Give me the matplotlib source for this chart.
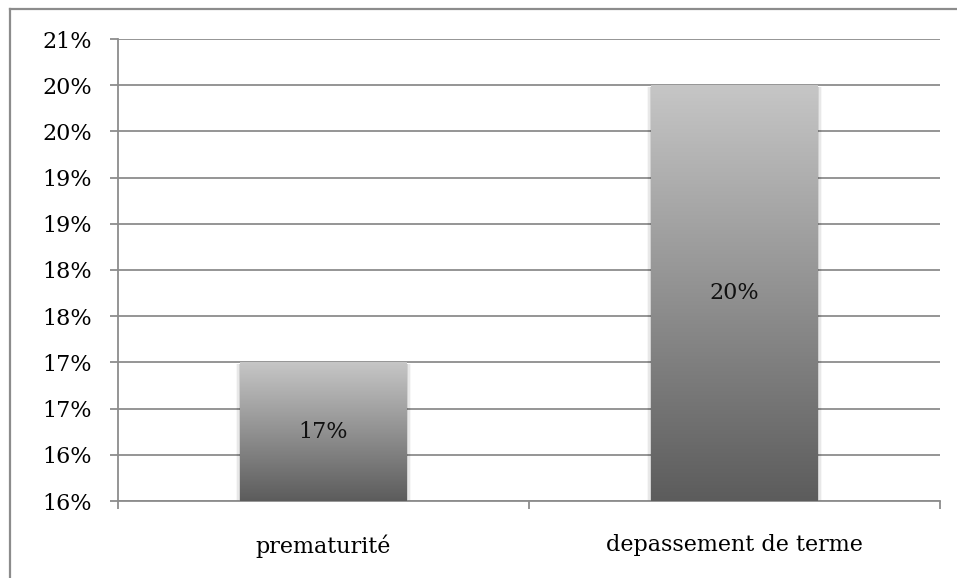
import numpy as np
import matplotlib
matplotlib.use("Agg")
import matplotlib.pyplot as plt
from matplotlib.lines import Line2D
from matplotlib.patches import Rectangle
from matplotlib.ticker import FixedLocator, FuncFormatter

# donnees
categories = ["prematurité", "depassement de terme"]
values = [17.0, 20.0]
value_labels = ["17%", "20%"]
y_ticks = [15.5, 16.0, 16.5, 17.0, 17.5, 18.0, 18.5, 19.0, 19.5, 20.0, 20.5]

plt.rcParams['font.family'] = ['DejaVu Serif']
grey = '#8c8c8c'

fig = plt.figure(figsize=(9.57, 5.78), dpi=100)
ax = fig.add_axes([118 / 957, 1 - 501 / 578, (940 - 118) / 957, (501 - 39) / 578])

x = np.arange(len(categories))
bar_w = 0.404
bars = ax.bar(x, [v - y_ticks[0] for v in values], bottom=y_ticks[0], width=bar_w,
              color='none', edgecolor='none', zorder=3)

# degrade gris de haut en bas, un par barre
grad = np.linspace(0, 1, 256).reshape(-1, 1)
cmap = matplotlib.colors.LinearSegmentedColormap.from_list('g', ['#5c5c5c', '#c6c6c6'])
for b in bars:
    x0, y0 = b.get_x(), b.get_y()
    w, h = b.get_width(), b.get_height()
    # ombre legere sur les cotes
    for i, a in enumerate([0.10, 0.06, 0.03]):
        d = 0.004 * (i + 1)
        ax.add_patch(Rectangle((x0 - d, y0), w + 2 * d, h - 0.02, color='black',
                               alpha=a, lw=0, zorder=2))
    im = ax.imshow(grad, extent=[x0, x0 + w, y0, y0 + h], origin='lower', cmap=cmap,
                   aspect='auto', zorder=3, interpolation='bicubic')
    im.set_clip_path(b)

for xi, v, lab in zip(x, values, value_labels):
    ax.text(xi, (v + y_ticks[0]) / 2, lab, ha='center', va='center', fontsize=16,
            color='#111111', zorder=4)

ax.set_xlim(-0.5, len(categories) - 0.5)
ax.set_ylim(y_ticks[0], y_ticks[-1])
ax.yaxis.set_major_locator(FixedLocator(y_ticks))
ax.yaxis.set_major_formatter(FuncFormatter(lambda v, p: f"{int(v + 0.5)}%"))
ax.grid(axis='y', color=grey, linewidth=1.3, zorder=1)
ax.set_axisbelow(True)

ax.set_xticks(x)
ax.set_xticklabels(categories)
ax.set_xticks(np.arange(-0.5, len(categories)), minor=True)
ax.tick_params(axis='x', which='major', length=0, pad=24, labelsize=16)
ax.tick_params(axis='x', which='minor', length=6, width=1.3, color=grey, direction='out')
ax.tick_params(axis='y', length=6, width=1.3, color=grey, direction='out', pad=13,
               labelsize=16)

for s in ['top', 'right']:
    ax.spines[s].set_visible(False)
for s in ['left', 'bottom']:
    ax.spines[s].set_color(grey)
    ax.spines[s].set_linewidth(1.3)

# cadre exterieur (coupe a droite et en bas)
fig.add_artist(Line2D([10 / 957, 10 / 957], [0, 1 - 9 / 578], color=grey, lw=1.6,
                      transform=fig.transFigure))
fig.add_artist(Line2D([10 / 957, 1], [1 - 9 / 578, 1 - 9 / 578], color=grey, lw=1.6,
                      transform=fig.transFigure))

fig.savefig('out.png', dpi=100)
